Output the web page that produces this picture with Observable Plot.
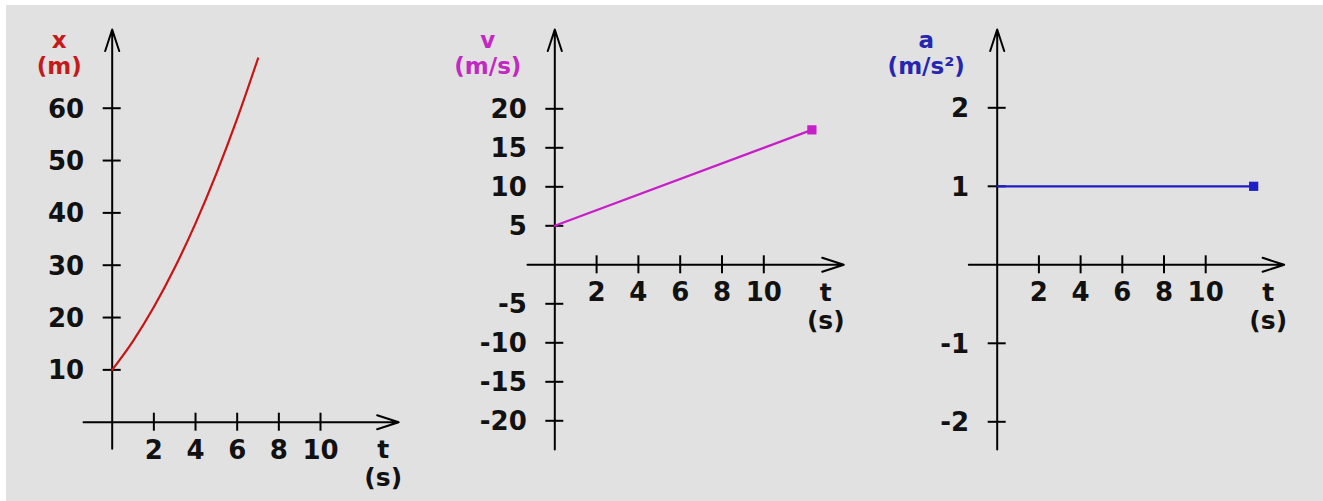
<!DOCTYPE html>
<html><head><meta charset="utf-8">
<script src="https://cdn.jsdelivr.net/npm/d3@7"></script>
<script src="https://cdn.jsdelivr.net/npm/@observablehq/plot@0.6"></script>
<style>
html,body{margin:0;padding:0;background:#fff;}
#stage{position:relative;width:1323px;height:501px;overflow:hidden;background:#fff;}
#bg{position:absolute;left:6px;top:5px;right:0;bottom:0;background:#e1e1e1;}
#stage svg{position:absolute;left:0;top:0;}
</style></head>
<body><div id="stage"><div id="bg"></div></div>
<script>
// ---- data ----
const timeTicks = [2, 4, 6, 8, 10];
const posTime = [0, 1, 2, 3, 4, 5, 6, 7];
const posValues = [10, 15.5, 22, 29.5, 38, 47.5, 58, 69.5];
const posTicks = [10, 20, 30, 40, 50, 60];
const velTime = [0, 12.3];
const velValues = [5, 17.3];
const velTicks = [20, 15, 10, 5, -5, -10, -15, -20];
const accTime = [0, 12.3];
const accValues = [1, 1];
const accTicks = [2, 1, -1, -2];
const yNames = ["x", "v", "a"];
const yUnits = ["(m)", "(m/s)", "(m/s²)"];
const tName = "t";
const tUnit = "(s)";

const font = {fontFamily: "DejaVu Sans", fontWeight: "bold", fontSize: 26};
const labelFont = {fontFamily: "DejaVu Sans", fontWeight: "bold", fontSize: 23};

function panel(cfg) {
  const {ox, oy, pxT, pxV, below, above, left, right, ticks, time, values, color, labelColor, name, unit, nameDx, square, curve} = cfg;
  const tX = px => px / pxT;
  const vY = px => px / pxV;
  const idx = d3.range(time.length);
  const marks = [
    // axes with arrowheads
    Plot.arrow([0], {x1: tX(-left), x2: tX(right), y1: 0, y2: 0, stroke: "#000", strokeWidth: 2, headLength: 17, headAngle: 36}),
    Plot.arrow([0], {x1: 0, x2: 0, y1: vY(-below), y2: vY(above), stroke: "#000", strokeWidth: 2, headLength: 17, headAngle: 36}),
    // tick marks
    Plot.ruleY(ticks, {y: d => d, x1: tX(-9), x2: tX(9), stroke: "#000", strokeWidth: 2}),
    Plot.ruleX(timeTicks, {x: d => d, y1: vY(-9), y2: vY(9), stroke: "#000", strokeWidth: 2}),
    // tick labels
    Plot.text(ticks, {x: 0, y: d => d, text: d => String(d), textAnchor: "end", dx: -28, dy: 1, fill: "#111", ...font}),
    Plot.text(timeTicks, {x: d => d, y: 0, text: d => String(d), dy: 28, fill: "#111", ...font}),
    // time axis label
    Plot.text([tName], {x: tX(271), y: 0, text: d => d, dy: 28, fill: "#111", ...labelFont, fontSize: 25}),
    Plot.text([tUnit], {x: tX(271), y: 0, text: d => d, dy: 56, fill: "#111", ...labelFont, fontSize: 25}),
    // value axis label
    Plot.text([name], {x: 0, frameAnchor: "top", text: d => d, dx: nameDx, dy: 31, fill: labelColor, ...labelFont}),
    Plot.text([unit], {x: 0, frameAnchor: "top", text: d => d, dx: nameDx, dy: 57, fill: labelColor, ...labelFont}),
    // data
    Plot.line(idx, {x: i => time[i], y: i => values[i], stroke: color, strokeWidth: 2.2, curve: curve || "linear"})
  ];
  if (square) {
    marks.push(Plot.dot([time.length - 1], {x: i => time[i], y: i => values[i], symbol: "square", r: 5.2, fill: color, stroke: "none"}));
  }
  const svg = Plot.plot({
    width: 1323, height: 501, margin: 0,
    x: {domain: [0, 1], range: [ox, ox + pxT], axis: null},
    y: {domain: [0, 1], range: [oy, oy - pxV], axis: null},
    style: {background: "transparent", overflow: "visible"},
    marks
  });
  document.getElementById("stage").appendChild(svg);
}

panel({ox: 111.7, oy: 421.7, pxT: 20.83, pxV: 5.233, below: 26.5, above: 392.7, left: 28.7, right: 286.5,
  ticks: posTicks, time: posTime, values: posValues, color: "#c81414", labelColor: "#c41a1a",
  name: yNames[0], unit: yUnits[0], nameDx: -53, square: false, curve: "monotone-x"});
panel({ox: 554.3, oy: 264.3, pxT: 20.9, pxV: 7.8, below: 184.7, above: 235.3, left: 27.3, right: 289,
  ticks: velTicks, time: velTime, values: velValues, color: "#c81ec8", labelColor: "#c228c2",
  name: yNames[1], unit: yUnits[1], nameDx: -67, square: true});
panel({ox: 996.7, oy: 264.3, pxT: 20.85, pxV: 78.5, below: 184.7, above: 235.3, left: 28.4, right: 287,
  ticks: accTicks, time: accTime, values: accValues, color: "#1e1ec8", labelColor: "#2626b0",
  name: yNames[2], unit: yUnits[2], nameDx: -71, square: true});
</script>
</body></html>
